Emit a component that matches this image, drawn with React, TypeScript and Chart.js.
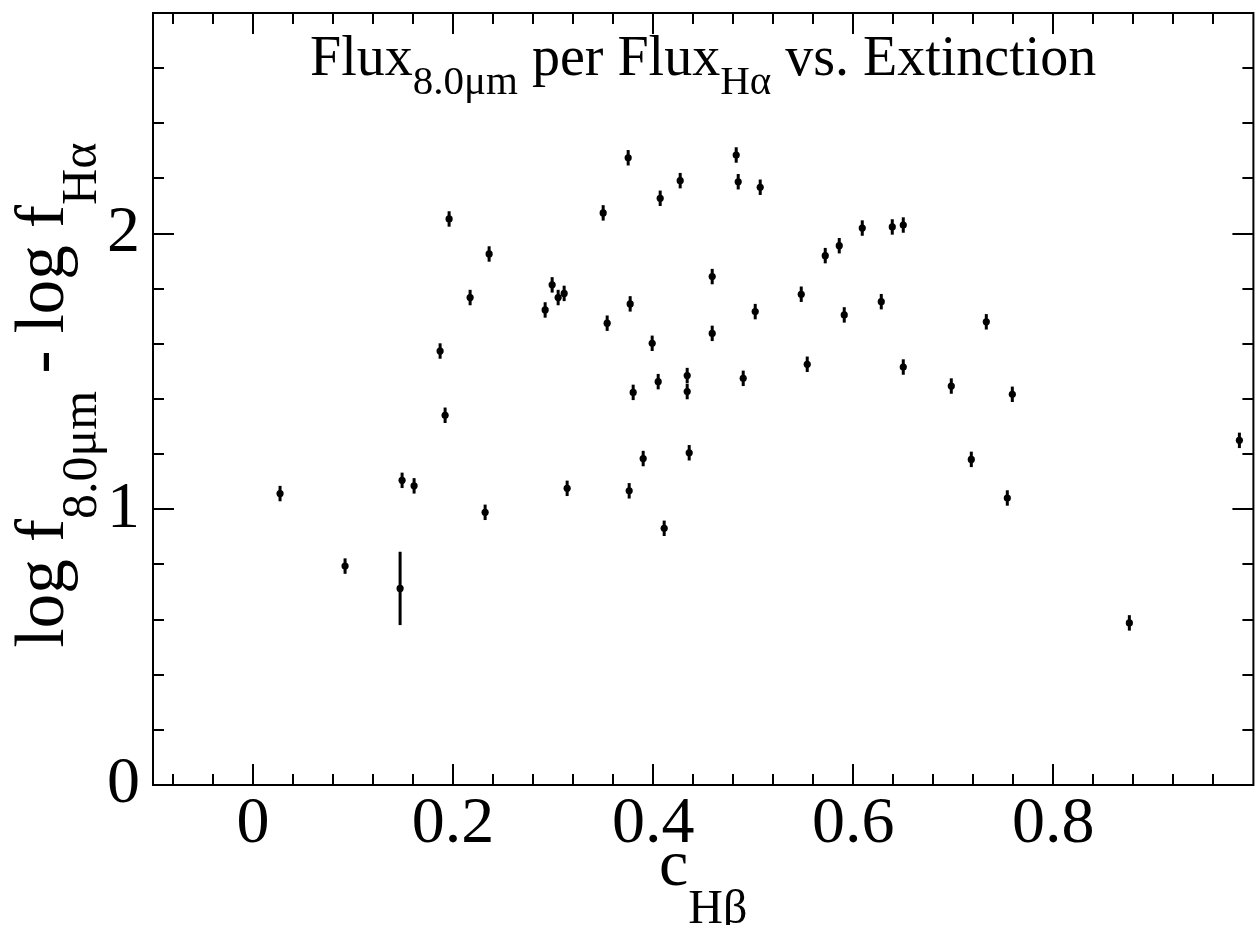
import React, { useEffect, useRef } from "react";
import { Chart, registerables } from "chart.js";

Chart.register(...registerables);

// ---- data ----
const C_HBETA = [
  0.027, 0.092, 0.147, 0.149, 0.161, 0.187, 0.192, 0.196, 0.217, 0.232,
  0.236, 0.292, 0.299, 0.305, 0.311, 0.314, 0.350, 0.354, 0.375, 0.377,
  0.376, 0.380, 0.390, 0.399, 0.405, 0.407, 0.411, 0.427, 0.434, 0.434,
  0.436, 0.459, 0.459, 0.483, 0.485, 0.490, 0.502, 0.507, 0.548, 0.554,
  0.572, 0.586, 0.591, 0.609, 0.628, 0.639, 0.650, 0.650, 0.698, 0.718,
  0.733, 0.754, 0.759, 0.876, 0.986,
];
const LOG_RATIO = [
  1.057, 0.794, 0.713, 1.105, 1.085, 1.574, 1.341, 2.053, 1.768, 0.989,
  1.926, 1.723, 1.814, 1.768, 1.783, 1.076, 2.075, 1.675, 2.275, 1.745,
  1.067, 1.424, 1.184, 1.602, 1.463, 2.128, 0.931, 2.192, 1.485, 1.427,
  1.205, 1.844, 1.638, 2.285, 2.188, 1.475, 1.717, 2.168, 1.780, 1.526,
  1.920, 1.956, 1.705, 2.020, 1.753, 2.024, 2.031, 1.516, 1.447, 1.181,
  1.680, 1.041, 1.417, 0.588, 1.250,
];
const LOG_RATIO_ERR = [
  0.028, 0.028, 0.133, 0.028, 0.028, 0.028, 0.028, 0.028, 0.028, 0.028,
  0.028, 0.028, 0.028, 0.028, 0.028, 0.028, 0.028, 0.028, 0.028, 0.028,
  0.028, 0.028, 0.028, 0.028, 0.028, 0.028, 0.028, 0.028, 0.028, 0.028,
  0.028, 0.028, 0.028, 0.028, 0.028, 0.028, 0.028, 0.028, 0.028, 0.028,
  0.028, 0.028, 0.028, 0.028, 0.028, 0.028, 0.028, 0.028, 0.028, 0.028,
  0.028, 0.028, 0.028, 0.028, 0.028,
];
const X_TICKS = [0, 0.2, 0.4, 0.6, 0.8];
const Y_TICKS = [0, 1, 2];
const X_MIN = -0.1;
const X_MAX = 1.0;
const Y_MIN = 0;
const Y_MAX = 2.8;
const X_MINOR_STEP = 0.04;
const Y_MINOR_STEP = 0.2;

const TITLE = [
  { t: "Flux", sub: false },
  { t: "8.0\u03BCm", sub: true },
  { t: " per Flux", sub: false },
  { t: "H\u03B1", sub: true },
  { t: " vs. Extinction", sub: false },
];
const Y_LABEL = [
  { t: "log f", sub: false },
  { t: "8.0\u03BCm", sub: true },
  { t: " - log f", sub: false },
  { t: "H\u03B1", sub: true },
];
const X_LABEL = [
  { t: "c", sub: false },
  { t: "H\u03B2", sub: true },
];

const FAMILY = '"Liberation Serif", "Times New Roman", serif';

type Seg = { t: string; sub: boolean };

function drawRich(
  ctx: CanvasRenderingContext2D,
  segs: Seg[],
  cx: number,
  baseline: number,
  mainSize: number,
  subSize: number,
  subDrop: number
) {
  const widths: number[] = [];
  let total = 0;
  for (const s of segs) {
    ctx.font = `${s.sub ? subSize : mainSize}px ${FAMILY}`;
    const w = ctx.measureText(s.t).width;
    widths.push(w);
    total += w;
  }
  let x = cx - total / 2;
  ctx.textAlign = "left";
  ctx.textBaseline = "alphabetic";
  segs.forEach((s, i) => {
    ctx.font = `${s.sub ? subSize : mainSize}px ${FAMILY}`;
    ctx.fillText(s.t, x, baseline + (s.sub ? subDrop : 0));
    x += widths[i];
  });
}

function minorValues(min: number, max: number, step: number): number[] {
  const out: number[] = [];
  const n0 = Math.ceil(min / step - 1e-9);
  const n1 = Math.floor(max / step + 1e-9);
  for (let n = n0; n <= n1; n++) out.push(Math.round(n * step * 1000) / 1000);
  return out;
}

const framePlugin = {
  id: "gracePlot",
  beforeDatasetsDraw(chart: any) {
    const { ctx } = chart;
    const xs = chart.scales.x;
    const ys = chart.scales.y;
    ctx.save();
    ctx.strokeStyle = "#000";
    ctx.lineWidth = 3;
    for (let i = 0; i < C_HBETA.length; i++) {
      const px = xs.getPixelForValue(C_HBETA[i]);
      const y1 = ys.getPixelForValue(LOG_RATIO[i] + LOG_RATIO_ERR[i]);
      const y2 = ys.getPixelForValue(LOG_RATIO[i] - LOG_RATIO_ERR[i]);
      ctx.beginPath();
      ctx.moveTo(px, y1);
      ctx.lineTo(px, y2);
      ctx.stroke();
    }
    ctx.restore();
  },
  afterDraw(chart: any) {
    const { ctx, chartArea } = chart;
    const { left, right, top, bottom } = chartArea;
    const xs = chart.scales.x;
    const ys = chart.scales.y;
    ctx.save();
    ctx.strokeStyle = "#000";
    ctx.fillStyle = "#000";
    ctx.lineWidth = 2;
    ctx.strokeRect(left, top, right - left, bottom - top);

    const MAJ = 21;
    const MIN = 11;
    const xMinor = minorValues(X_MIN, X_MAX, X_MINOR_STEP);
    for (const v of xMinor) {
      const isMajor = X_TICKS.some((m) => Math.abs(m - v) < 1e-6);
      const len = isMajor ? MAJ : MIN;
      const px = Math.round(xs.getPixelForValue(v));
      if (px <= left + 1 || px >= right - 1) continue;
      ctx.beginPath();
      ctx.moveTo(px, bottom);
      ctx.lineTo(px, bottom - len);
      ctx.moveTo(px, top);
      ctx.lineTo(px, top + len);
      ctx.stroke();
    }
    const yMinor = minorValues(Y_MIN, Y_MAX, Y_MINOR_STEP);
    for (const v of yMinor) {
      const isMajor = Y_TICKS.some((m) => Math.abs(m - v) < 1e-6);
      const len = isMajor ? MAJ : MIN;
      const py = Math.round(ys.getPixelForValue(v));
      if (py <= top + 1 || py >= bottom - 1) continue;
      ctx.beginPath();
      ctx.moveTo(left, py);
      ctx.lineTo(left + len, py);
      ctx.moveTo(right, py);
      ctx.lineTo(right - len, py);
      ctx.stroke();
    }

    const cx = (left + right) / 2;
    // title inside the plot area
    drawRich(ctx, TITLE, cx, 75, 56, 41, 19);
    // x axis label
    drawRich(ctx, X_LABEL, cx, 885, 66, 48, 38);
    // y axis label (rotated)
    ctx.save();
    ctx.translate(63, 395);
    ctx.rotate(-Math.PI / 2);
    drawRich(ctx, Y_LABEL, 0, 0, 69, 50, 33);
    ctx.restore();
    ctx.restore();
  },
};

export default function App() {
  const ref = useRef<HTMLCanvasElement | null>(null);

  useEffect(() => {
    const canvas = ref.current;
    if (!canvas) return;
    const points = C_HBETA.map((x, i) => ({ x, y: LOG_RATIO[i] }));
    const chart = new Chart(canvas, {
      type: "scatter",
      data: {
        datasets: [
          {
            label: "log f8.0 - log fHa",
            data: points,
            pointRadius: 3.6,
            pointHoverRadius: 3.6,
            pointBackgroundColor: "#000",
            pointBorderColor: "#000",
            pointBorderWidth: 0,
          },
        ],
      },
      options: {
        animation: false,
        responsive: false,
        devicePixelRatio: 1,
        layout: { padding: { left: 0, right: 1, top: 13, bottom: 0 } },
        plugins: {
          legend: { display: false },
          tooltip: { enabled: false },
          title: { display: false },
        },
        events: [],
        scales: {
          x: {
            type: "linear",
            position: "bottom",
            min: X_MIN,
            max: X_MAX,
            grid: { display: false, drawTicks: false },
            border: { display: false },
            afterBuildTicks: (axis: any) => {
              axis.ticks = X_TICKS.map((v) => ({ value: v }));
            },
            afterFit: (axis: any) => {
              axis.height = 140;
              axis.paddingLeft = 0;
              axis.paddingRight = 0;
              axis.paddingTop = 0;
              axis.paddingBottom = 0;
            },
            ticks: {
              autoSkip: false,
              maxRotation: 0,
              minRotation: 0,
              padding: 0,
              color: "#000",
              font: { family: FAMILY, size: 66 },
            },
          },
          y: {
            type: "linear",
            position: "left",
            min: Y_MIN,
            max: Y_MAX,
            grid: { display: false, drawTicks: false },
            border: { display: false },
            afterBuildTicks: (axis: any) => {
              axis.ticks = Y_TICKS.map((v) => ({ value: v }));
            },
            afterFit: (axis: any) => {
              axis.width = 153;
              axis.paddingTop = 0;
              axis.paddingBottom = 0;
              axis.paddingLeft = 0;
              axis.paddingRight = 0;
            },
            ticks: {
              autoSkip: false,
              padding: 13,
              color: "#000",
              font: { family: FAMILY, size: 66 },
            },
          },
        },
      },
      plugins: [framePlugin],
    });
    return () => chart.destroy();
  }, []);

  return (
    <div
      style={{
        position: "fixed",
        left: 0,
        top: 0,
        width: 1255,
        height: 925,
        overflow: "hidden",
        background: "#fff",
      }}
    >
      <canvas ref={ref} width={1257} height={925} style={{ display: "block" }} />
    </div>
  );
}
